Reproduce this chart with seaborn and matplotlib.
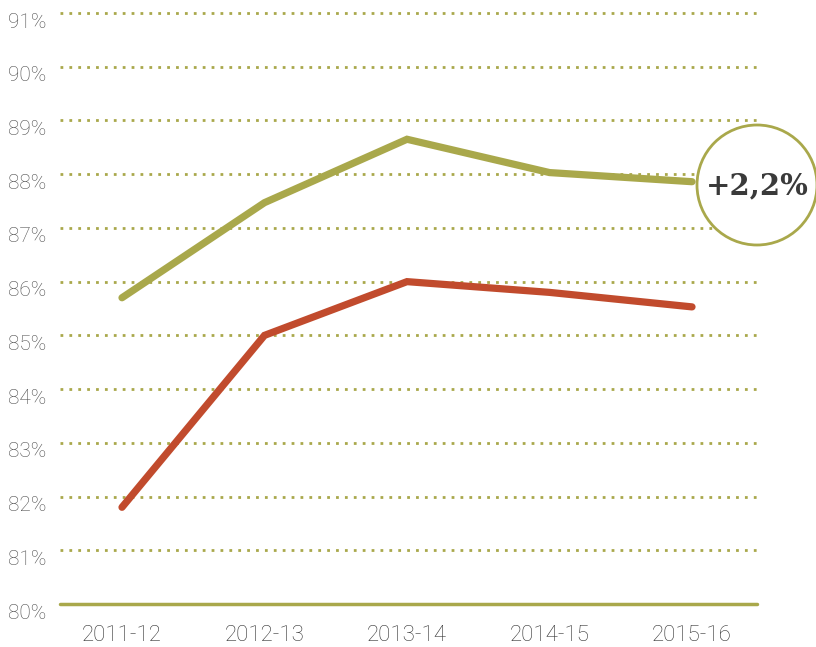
import pandas as pd
import matplotlib.pyplot as plt
import matplotlib.transforms as mtransforms
import seaborn as sns
from matplotlib.patches import Ellipse

# values
years = ["2011-12", "2012-13", "2013-14", "2014-15", "2015-16"]
green_vals = [85.7, 87.47, 88.65, 88.03, 87.86]
red_vals = [81.8, 85.0, 86.0, 85.8, 85.53]
y_ticks = list(range(80, 92))
badge_text = "+2,2%"

GREEN = "#a9a84b"
RED = "#c14b2d"

df = pd.DataFrame({
    "year": years * 2,
    "x": list(range(len(years))) * 2,
    "value": green_vals + red_vals,
    "series": ["green"] * len(years) + ["red"] * len(years),
})

sns.set_style("white")
plt.rcParams["font.family"] = ["Roboto", "DejaVu Sans"]

fig = plt.figure(figsize=(8.16, 6.47), dpi=100)
ax = fig.add_axes([60 / 816, 43 / 647, 697 / 816, 591 / 647])

sns.lineplot(
    data=df, x="x", y="value", hue="series",
    palette={"green": GREEN, "red": RED},
    linewidth=5.2, legend=False, ax=ax,
    solid_capstyle="round", solid_joinstyle="miter", zorder=3,
)

ax.set_xlim(-0.435, 4.456)
ax.set_ylim(80, 91)

# dotted gridlines
for t in y_ticks[1:]:
    ax.axhline(t, color=GREEN, linestyle=(0, (1, 2.2)), linewidth=2, zorder=1, clip_on=False)
ax.axhline(80, color=GREEN, linewidth=2.5, zorder=2, clip_on=False)

ax.set_yticks(y_ticks)
ax.set_yticklabels([f"{t}%" for t in y_ticks], fontsize=15, color="#4d4d4d", fontweight="light")
ax.set_xticks(range(len(years)))
ax.set_xticklabels(years, fontsize=16, color="#333333", fontweight="light")
ax.tick_params(axis="both", length=0)
ax.tick_params(axis="y", pad=10)
ax.tick_params(axis="x", pad=15)
ax.set_xlabel("")
ax.set_ylabel("")
sns.despine(ax=ax, left=True, bottom=True)

# y labels sit a little below their gridlines in the reference
shift = mtransforms.ScaledTranslation(0, -7 / 100, fig.dpi_scale_trans)
for lab in ax.get_yticklabels():
    lab.set_transform(lab.get_transform() + shift)

# badge circle on the right
ell = Ellipse((757 / 816, 1 - 185 / 647), 120 / 816, 120 / 647, transform=fig.transFigure,
              facecolor="white", edgecolor=GREEN, linewidth=2, zorder=5)
fig.patches.append(ell)
fig.text(757 / 816, 1 - 186 / 647, badge_text, ha="center", va="center",
         fontsize=21, fontweight="bold", color="#3a3a3a",
         family=["DejaVu Serif"], zorder=6)

plt.savefig("out.png", dpi=100)
